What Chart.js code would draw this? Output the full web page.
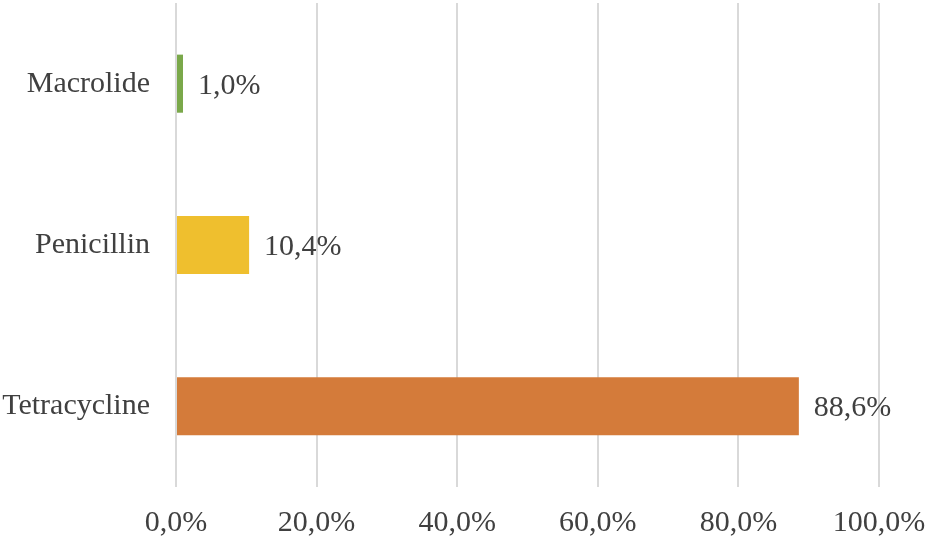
<!DOCTYPE html>
<html>
<head>
<meta charset="utf-8">
<script src="https://cdn.jsdelivr.net/npm/chart.js@4"></script>
<style>
  html, body { margin: 0; padding: 0; background: #fff; }
  #wrap { width: 927px; height: 539px; }
</style>
</head>
<body>
<div id="wrap"><canvas id="bar-chart"></canvas></div>
<script>
const categories = ["Macrolide", "Penicillin", "Tetracycline"];
const shares = [1.0, 10.4, 88.6];
const barColors = ["#7aa84a", "#efbf2e", "#d47b3a"];
const xTicks = [0, 20, 40, 60, 80, 100];

function pct(v) {
  return v.toFixed(1).replace(".", ",") + "%";
}

// draws the value at the end of each bar
const endLabels = {
  id: "endLabels",
  afterDatasetsDraw(chart) {
    const ctx = chart.ctx;
    const meta = chart.getDatasetMeta(0);
    ctx.save();
    ctx.font = "30px 'Liberation Serif'";
    ctx.fillStyle = "#404040";
    ctx.textAlign = "left";
    ctx.textBaseline = "middle";
    meta.data.forEach((bar, i) => {
      ctx.fillText(pct(shares[i]), bar.x + 15, bar.y + 2);
    });
    ctx.restore();
  },
};

var ctx = document.getElementById("bar-chart").getContext("2d");
var chart = new Chart(ctx, {
  type: "bar",
  data: {
    labels: categories,
    datasets: [
      {
        data: shares,
        backgroundColor: barColors,
        borderWidth: 0,
        barPercentage: 0.36,
        categoryPercentage: 1,
      },
    ],
  },
  options: {
    indexAxis: "y",
    responsive: true,
    maintainAspectRatio: false,
    animation: false,
    layout: { padding: { top: 3, right: 48, left: 0, bottom: 0 } },
    plugins: {
      legend: { display: false },
      tooltip: { enabled: false },
    },
    scales: {
      x: {
        min: 0,
        max: 100,
        afterBuildTicks(axis) {
          axis.ticks = xTicks.map((v) => ({ value: v }));
        },
        afterFit(axis) {
          axis.height = 52;
          axis.paddingLeft = 0;
          axis.paddingRight = 0;
        },
        border: { display: false },
        grid: { color: "#d9d9d9", lineWidth: 2, drawTicks: false },
        ticks: {
          padding: 18,
          color: "#404040",
          font: { family: "'Liberation Serif'", size: 30 },
          callback: (v) => pct(v),
        },
      },
      y: {
        afterFit(axis) {
          axis.width = 176;
          axis.paddingTop = 0;
          axis.paddingBottom = 0;
        },
        border: { display: false },
        grid: { display: false },
        ticks: {
          padding: 18,
          color: "#404040",
          font: { family: "'Liberation Serif'", size: 30 },
        },
      },
    },
  },
  plugins: [endLabels],
});
</script>
</body>
</html>
